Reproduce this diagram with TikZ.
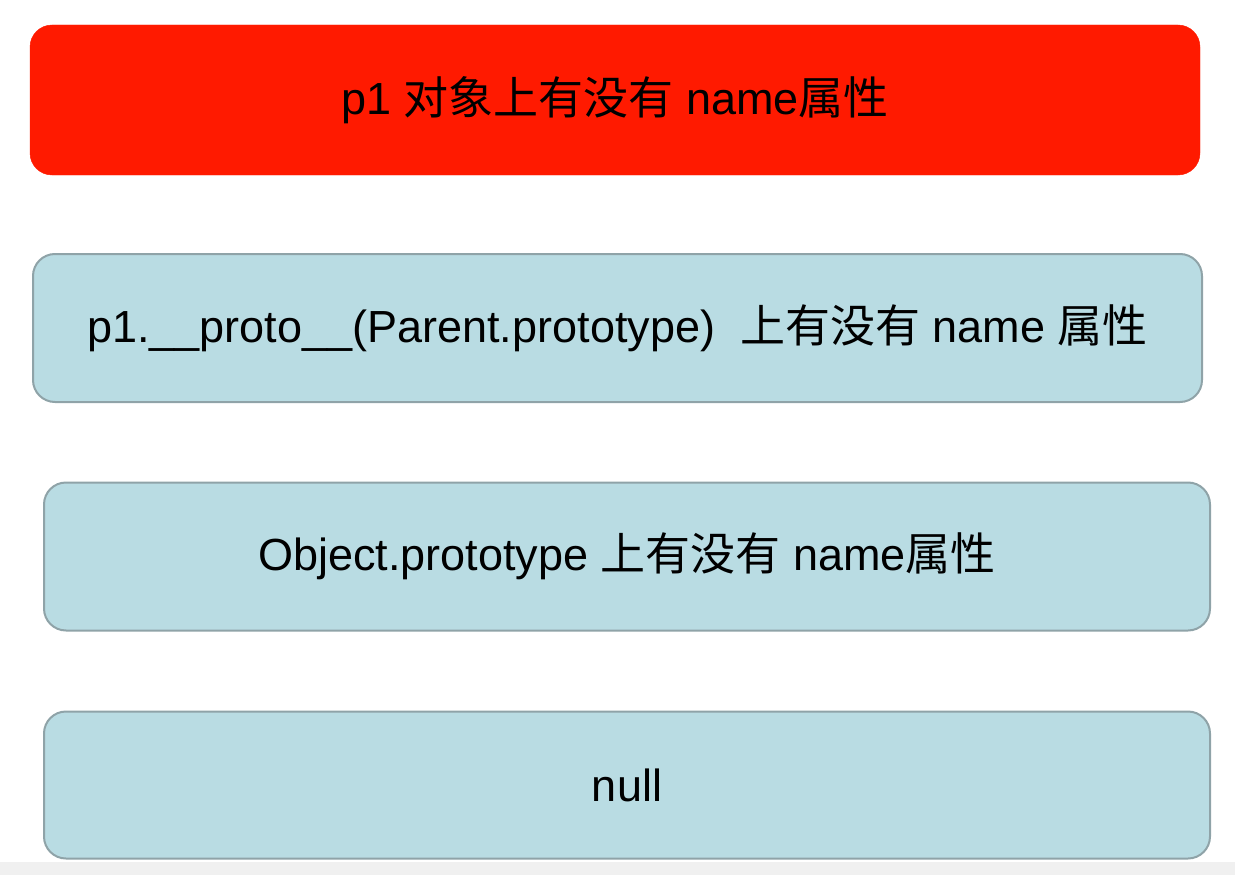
\documentclass[tikz,border=0pt]{standalone}
\usepackage{fontspec}
\setmainfont{Liberation Sans}
\newfontfamily\cjk{Noto Sans CJK SC}
\definecolor{boxred}{HTML}{FF1A00}
\definecolor{boxblue}{HTML}{B9DCE3}
\definecolor{boxedge}{HTML}{8FA3A8}
\begin{document}
\begin{tikzpicture}[x=1pt,y=-1pt,
  card/.style={rectangle, rounded corners=22pt, inner sep=0pt, font=\fontsize{45}{54}\selectfont},
  redcard/.style={card, fill=boxred, draw=boxred},
  bluecard/.style={card, fill=boxblue, draw=boxedge, line width=2pt}]
\useasboundingbox (0,0) rectangle (1235,875);
\fill[gray!12] (0,862) rectangle (1235,875);
\node[redcard, minimum width=1170pt, minimum height=150pt] (n1) at (615,100) {p1 {\cjk 对象上有没有} name{\cjk 属性}};
\node[bluecard, minimum width=1169pt, minimum height=148pt] (n2) at (617.5,328) {p1.\_\_proto\_\_(Parent.prototype)\ \ {\cjk 上有没有} name {\cjk 属性}};
\node[bluecard, minimum width=1166pt, minimum height=148pt] (n3) at (627,556.5) {Object.prototype {\cjk 上有没有} name{\cjk 属性}};
\node[bluecard, minimum width=1166pt, minimum height=147pt] (n4) at (627,785) {null};
\end{tikzpicture}
\end{document}
